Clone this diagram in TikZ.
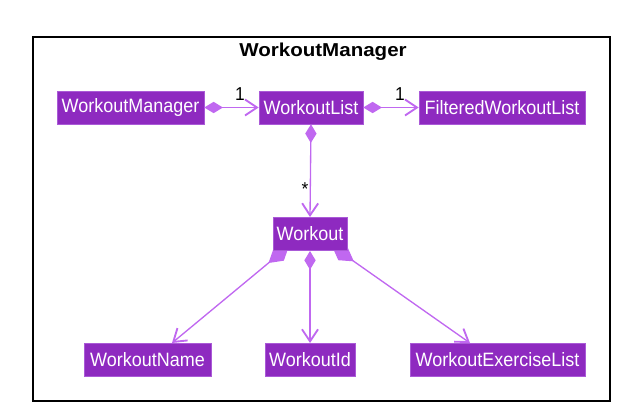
\documentclass[tikz,border=0pt]{standalone}
\usepackage{fontspec}
\setmainfont{Liberation Sans}
\newfontfamily\clsfont[FakeStretch=0.93]{Liberation Sans}
\newfontfamily\titlefont[FakeStretch=1.1]{Liberation Sans}
\usetikzlibrary{arrows.meta}
\definecolor{boxfill}{RGB}{142,42,192}
\definecolor{boxline}{RGB}{170,90,215}
\definecolor{edgecol}{RGB}{192,104,240}
\tikzset{
  cls/.style={fill=boxfill, draw=boxline, line width=0.4pt, text=white, inner sep=0pt,
    minimum height=24.75pt, font=\clsfont\fontsize{14.5pt}{16pt}\selectfont},
  comp/.style={draw=edgecol, line width=1pt,
    {Diamond[length=14pt,width=8.5pt,fill=edgecol]}-{Straight Barb[length=9pt,width=12pt,line width=1.4pt]}},
  mult/.style={font=\clsfont\fontsize{14pt}{16pt}\selectfont, text=black, inner sep=0pt},
}
\begin{document}
\begin{tikzpicture}[x=0.75pt,y=-0.75pt]
\useasboundingbox (0,0) rectangle (625,417);
\node[draw=black, line width=1.2pt, minimum width=577*0.75pt, minimum height=364*0.75pt, inner sep=0pt] (frame) at (321.5,219) {};
\node[font=\titlefont\bfseries\fontsize{14pt}{17pt}\selectfont, inner sep=0pt] (title) at (323,52) {WorkoutManager};
% coordinates for connector ends
\coordinate (wnS) at (289,246);
\coordinate (welS) at (332,246);
\coordinate (wnE) at (172,343);
\coordinate (welE) at (470,343);
\coordinate (wlE) at (310,217);
\coordinate (wiS) at (310,251);
\coordinate (wiE) at (310,343);
\node[cls, minimum width=110.25pt] (wm) at (130.5,107.5) {WorkoutManager};
\node[cls, minimum width=78pt] (wl) at (311,107.5) {WorkoutList};
\node[cls, minimum width=124.5pt] (fwl) at (502,107.5) {FilteredWorkoutList};
% connectors first, so that the lower boxes lie over them
\draw[comp] (wm.east) -- (wl.west);
\draw[comp] (wl.east) -- (fwl.west);
\draw[comp] (wl.south) -- (wlE);
\draw[comp, {Diamond[length=20pt,width=12pt,fill=edgecol]}-{Straight Barb[length=9pt,width=12pt,line width=1.4pt]}] (wnS) -- (wnE);
\draw[comp] (wiS) -- (wiE);
\draw[comp, {Diamond[length=20pt,width=12pt,fill=edgecol]}-{Straight Barb[length=9pt,width=12pt,line width=1.4pt]}] (welS) -- (welE);
\node[cls, minimum width=55.5pt] (w) at (310,233.5) {Workout};
\node[cls, minimum width=95.25pt] (wn) at (147.5,360) {WorkoutName};
\node[cls, minimum width=67.5pt] (wi) at (310,360) {WorkoutId};
\node[cls, minimum width=131.25pt] (wel) at (497.5,360) {WorkoutExerciseList};
\node[mult] (m1) at (240,94) {1};
\node[mult] (m2) at (400,94) {1};
\node[mult] (m3) at (305,189) {*};
\end{tikzpicture}
\end{document}
